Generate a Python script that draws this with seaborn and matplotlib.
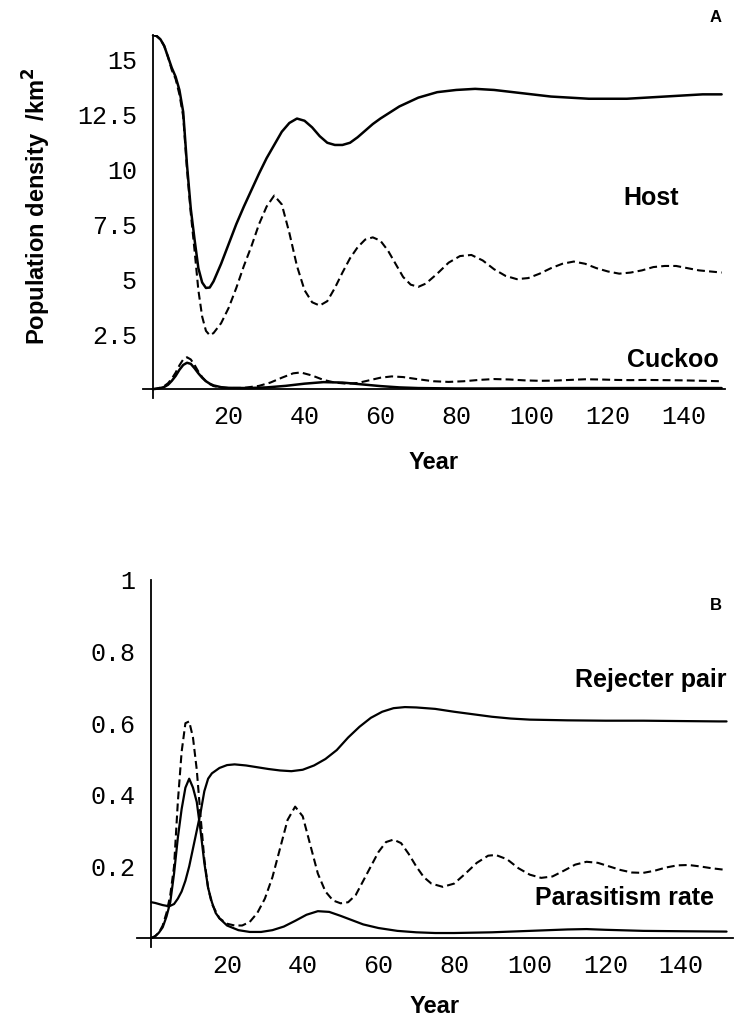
import numpy as np
import pandas as pd
import matplotlib
matplotlib.use("Agg")
import matplotlib.pyplot as plt
import seaborn as sns

# ---------------- Panel A data ----------------
host_years = [0, 1, 2, 3, 4, 5, 6, 7, 8, 9, 10, 11, 12, 13, 14, 15, 16, 18, 20, 22, 24, 26, 28, 30,
              32, 34, 36, 38, 40, 42, 44, 46, 48, 50, 52, 54, 56, 58, 60, 65, 70, 75, 80, 85, 90,
              95, 100, 105, 110, 115, 120, 125, 130, 135, 140, 145, 150]
host_solid = [16.1, 16.05, 15.9, 15.6, 15.1, 14.6, 14.2, 13.6, 12.6, 10.2, 8.2, 6.8, 5.5, 4.85, 4.6,
              4.62, 4.9, 5.7, 6.6, 7.5, 8.3, 9.05, 9.8, 10.5, 11.1, 11.7, 12.1, 12.3, 12.2, 11.9,
              11.5, 11.2, 11.1, 11.1, 11.2, 11.45, 11.75, 12.05, 12.3, 12.85, 13.25, 13.5, 13.6,
              13.65, 13.6, 13.5, 13.4, 13.3, 13.25, 13.2, 13.2, 13.2, 13.25, 13.3, 13.35, 13.4, 13.4]

hostd_years = [0, 1, 2, 3, 4, 5, 6, 7, 8, 9, 10, 11, 12, 13, 14, 15, 16, 18, 20, 22, 24, 26, 28, 30,
               32, 34, 36, 38, 40, 42, 44, 46, 48, 50, 52, 54, 56, 58, 60, 62, 64, 66, 68, 70, 72,
               75, 78, 81, 84, 87, 90, 93, 96, 99, 102, 105, 108, 111, 114, 117, 120, 123, 126,
               129, 132, 135, 138, 141, 144, 147, 150]
host_dashed = [16.1, 16.05, 15.9, 15.6, 15.1, 14.5, 14.1, 13.4, 12.4, 10.0, 8.0, 6.3, 4.5, 3.3,
               2.65, 2.45, 2.55, 3.0, 3.7, 4.6, 5.6, 6.5, 7.5, 8.3, 8.8, 8.4, 7.1, 5.6, 4.5, 3.95,
               3.8, 4.0, 4.6, 5.3, 5.95, 6.45, 6.8, 6.9, 6.75, 6.3, 5.7, 5.1, 4.75, 4.65, 4.8, 5.25,
               5.75, 6.05, 6.1, 5.85, 5.45, 5.15, 5.0, 5.05, 5.25, 5.5, 5.7, 5.8, 5.7, 5.5, 5.35,
               5.25, 5.3, 5.4, 5.55, 5.6, 5.6, 5.5, 5.4, 5.35, 5.3]

cuckoo_years = [0, 1, 2, 3, 4, 5, 6, 7, 8, 9, 10, 11, 12, 13, 14, 15, 16, 18, 20, 25, 30, 35, 40,
                45, 50, 55, 60, 65, 70, 80, 90, 100, 110, 120, 130, 140, 150]
cuckoo_solid = [0.0, 0.02, 0.05, 0.1, 0.2, 0.38, 0.6, 0.88, 1.1, 1.2, 1.15, 0.95, 0.72, 0.52, 0.36,
                0.25, 0.17, 0.09, 0.06, 0.05, 0.08, 0.15, 0.25, 0.32, 0.3, 0.22, 0.14, 0.08, 0.05,
                0.03, 0.03, 0.04, 0.05, 0.05, 0.05, 0.05, 0.05]

cuckood_years = [0, 1, 2, 3, 4, 5, 6, 7, 8, 9, 10, 11, 12, 13, 14, 15, 16, 18, 20, 24, 28, 31, 34,
                 37, 39, 42, 45, 48, 51, 54, 57, 60, 63, 66, 70, 74, 78, 82, 86, 90, 94, 98, 102,
                 106, 110, 114, 118, 122, 126, 130, 135, 140, 145, 150]
cuckoo_dashed = [0.0, 0.03, 0.07, 0.14, 0.27, 0.48, 0.75, 1.08, 1.35, 1.45, 1.35, 1.1, 0.8, 0.55,
                 0.36, 0.23, 0.14, 0.07, 0.05, 0.06, 0.15, 0.3, 0.52, 0.72, 0.76, 0.62, 0.42, 0.3,
                 0.25, 0.28, 0.4, 0.52, 0.58, 0.55, 0.45, 0.36, 0.33, 0.36, 0.42, 0.46, 0.44, 0.4,
                 0.38, 0.39, 0.42, 0.45, 0.44, 0.42, 0.41, 0.42, 0.41, 0.4, 0.38, 0.36]

# ---------------- Panel B data ----------------
rej_years = [0, 1, 2, 3, 4, 5, 6, 7, 8, 9, 10, 11, 12, 13, 14, 15, 16, 18, 20, 22, 25, 28, 31, 34,
             37, 40, 43, 46, 49, 52, 55, 58, 61, 64, 67, 70, 75, 80, 85, 90, 95, 100, 110, 120,
             130, 140, 150, 152]
rejecter = [0.1, 0.098, 0.095, 0.092, 0.09, 0.09, 0.095, 0.11, 0.13, 0.16, 0.2, 0.25, 0.3, 0.35,
            0.41, 0.445, 0.46, 0.475, 0.483, 0.485, 0.482, 0.477, 0.472, 0.468, 0.466, 0.47,
            0.482, 0.5, 0.525, 0.56, 0.59, 0.615, 0.632, 0.642, 0.645, 0.644, 0.64, 0.632, 0.625,
            0.618, 0.613, 0.61, 0.608, 0.607, 0.607, 0.606, 0.605, 0.605]

par_years = [0, 1, 2, 3, 4, 5, 6, 7, 8, 9, 10, 11, 12, 13, 14, 15, 16, 17, 18, 20, 23, 26, 29, 32,
             35, 38, 41, 44, 47, 50, 53, 56, 60, 65, 70, 75, 80, 90, 100, 110, 115, 120, 130, 140,
             152]
parasitism = [0.0, 0.005, 0.015, 0.03, 0.06, 0.1, 0.18, 0.28, 0.36, 0.42, 0.445, 0.42, 0.38, 0.3,
              0.21, 0.14, 0.1, 0.07, 0.055, 0.035, 0.022, 0.017, 0.017, 0.022, 0.032, 0.048,
              0.065, 0.075, 0.073, 0.062, 0.05, 0.038, 0.028, 0.02, 0.016, 0.014, 0.014, 0.016,
              0.02, 0.024, 0.025, 0.023, 0.02, 0.019, 0.018]

pard_years = [0, 1, 2, 3, 4, 5, 6, 7, 8, 9, 10, 11, 12, 13, 14, 15, 16, 18, 20, 22, 24, 26, 28, 30,
              32, 34, 36, 38, 40, 42, 44, 46, 48, 50, 52, 54, 56, 58, 60, 62, 64, 66, 68, 70, 72,
              74, 77, 80, 83, 86, 89, 91, 94, 97, 100, 103, 106, 109, 112, 115, 118, 121, 124,
              127, 130, 133, 136, 139, 142, 145, 148, 152]
parasitism_dashed = [0.0, 0.005, 0.015, 0.035, 0.07, 0.12, 0.2, 0.38, 0.52, 0.6, 0.605, 0.56,
                     0.47, 0.34, 0.22, 0.14, 0.095, 0.055, 0.04, 0.035, 0.035, 0.045, 0.07, 0.11,
                     0.17, 0.25, 0.33, 0.367, 0.34, 0.26, 0.18, 0.13, 0.105, 0.097, 0.1, 0.12,
                     0.16, 0.2, 0.24, 0.268, 0.275, 0.265, 0.235, 0.2, 0.17, 0.152, 0.143, 0.152,
                     0.18, 0.21, 0.23, 0.232, 0.22, 0.195, 0.177, 0.168, 0.172, 0.188, 0.205,
                     0.213, 0.21, 0.2, 0.19, 0.183, 0.182, 0.188, 0.197, 0.203, 0.204, 0.2, 0.195,
                     0.19]

xticks = [20, 40, 60, 80, 100, 120, 140]
yticks_a = [2.5, 5, 7.5, 10, 12.5, 15]
yticklabels_a = ["2.5", "5", "7.5", "10", "12.5", "15"]
yticks_b = [0.2, 0.4, 0.6, 0.8, 1.0]
yticklabels_b = ["0.2", "0.4", "0.6", "0.8", "1"]

# ---------------- Plot ----------------
sns.set_style("white")
plt.rcParams["font.family"] = ["Liberation Sans", "DejaVu Sans"]
plt.rcParams["text.color"] = "black"
plt.rcParams["axes.labelcolor"] = "black"
plt.rcParams["xtick.color"] = "black"
plt.rcParams["ytick.color"] = "black"

fig = plt.figure(figsize=(7.36, 10.22), dpi=100)
axA = fig.add_axes([0.1943, 0.6106, 0.7908, 0.3552])
axB = fig.add_axes([0.1861, 0.0734, 0.8098, 0.3591])

DASH = (0, (3.8, 2.0))


def draw(ax, xs, ys, style, lw):
    df = pd.DataFrame({"year": xs, "value": ys})
    sns.lineplot(data=df, x="year", y="value", ax=ax, color="black",
                 linewidth=lw, linestyle=style, sort=False)


draw(axA, host_years, host_solid, "-", 1.8)
draw(axA, hostd_years, host_dashed, DASH, 1.5)
draw(axA, cuckoo_years, cuckoo_solid, "-", 1.8)
draw(axA, cuckood_years, cuckoo_dashed, DASH, 1.5)

draw(axB, rej_years, rejecter, "-", 1.6)
draw(axB, par_years, parasitism, "-", 1.6)
draw(axB, pard_years, parasitism_dashed, DASH, 1.5)

mono = ["Liberation Mono", "DejaVu Sans Mono"]

for ax in (axA, axB):
    for s in ("top", "right"):
        ax.spines[s].set_visible(False)
    ax.spines["left"].set_position(("data", 0))
    ax.spines["bottom"].set_position(("data", 0))
    for s in ("left", "bottom"):
        ax.spines[s].set_linewidth(1.3)
        ax.spines[s].set_color("black")
    ax.tick_params(axis="both", direction="inout", length=7, width=1.1,
                   labelsize=18, pad=8, colors="black", labelcolor="black")
    ax.set_xticks(xticks)
    ax.set_xticklabels([str(t) for t in xticks], family=mono, color="black")
    ax.set_ylabel("")

axA.set_xlim(-2.6, 150.9)
axA.set_ylim(-0.4, 16.1)
axA.set_yticks(yticks_a)
axA.set_yticklabels(yticklabels_a, family=mono, color="black")
axA.set_xlabel("Year", fontsize=17, fontweight="bold", labelpad=16, color="black")
axA.set_ylabel("Population density  /km$^\\mathbf{2}$", fontsize=17, fontweight="bold",
               color="black")
axA.yaxis.set_label_coords(-0.155, 0.529)

axB.set_xlim(-3.8, 153.7)
axB.set_ylim(-0.025, 1.0)
axB.set_yticks(yticks_b)
axB.set_yticklabels(yticklabels_b, family=mono, color="black")
axB.set_xlabel("Year", fontsize=17, fontweight="bold", labelpad=12, color="black")

# annotations
kw = dict(fontsize=18, fontweight="bold", ha="center", va="center", color="black")
axA.text(131.4, 8.7, "Host", **kw)
axA.text(137.2, 1.32, "Cuckoo", **kw)
axB.text(132, 0.72, "Rejecter pair", **kw)
axB.text(125, 0.112, "Parasitism rate", **kw)

fig.text(716 / 736, 1 - 17 / 1022, "A", fontsize=12, fontweight="bold", ha="center",
         va="center", color="black")
fig.text(716 / 736, 1 - 605 / 1022, "B", fontsize=12, fontweight="bold", ha="center",
         va="center", color="black")

fig.savefig("out.png", dpi=100, facecolor="white")
